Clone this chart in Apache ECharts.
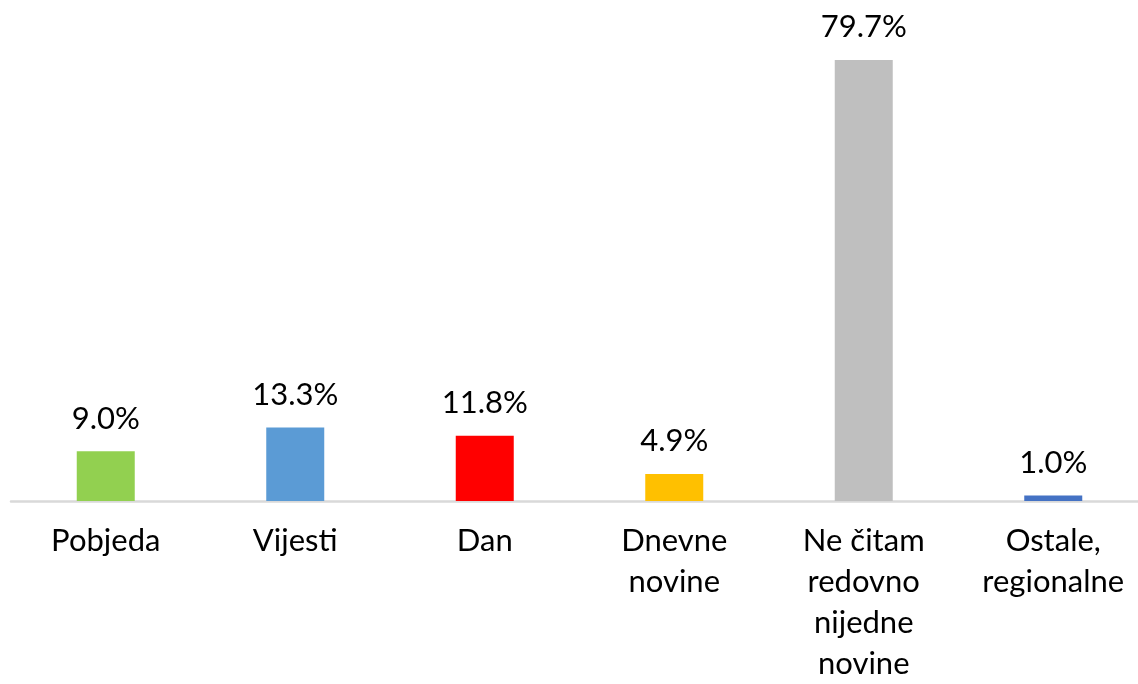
<!DOCTYPE html>
<html>
<head>
<meta charset="utf-8">
<script src="https://cdn.jsdelivr.net/npm/echarts@6/dist/echarts.min.js"></script>
<style>html,body{margin:0;padding:0;background:#fff;overflow:hidden;width:1138px;height:684px;}#c{width:1150px;height:684px;}</style>
</head>
<body>
<div id="c"></div>
<script>
var categories = ['Pobjeda', 'Vijesti', 'Dan', 'Dnevne\nnovine', 'Ne čitam\nredovno\nnijedne\nnovine', 'Ostale,\nregionalne'];
var values = [9.0, 13.3, 11.8, 4.9, 79.7, 1.0];
var colors = ['#92D050', '#5B9BD5', '#FF0000', '#FFC000', '#BFBFBF', '#4472C4'];

var chart = echarts.init(document.getElementById('c'));
var font = 'Lato';
chart.setOption({
  animation: false,
  backgroundColor: '#fff',
  grid: { left: 11, width: 1137, top: 58.3, bottom: 182, containLabel: false },
  xAxis: {
    type: 'category',
    data: categories,
    axisLine: { show: true, lineStyle: { color: '#D9D9D9', width: 2.5 } },
    axisTick: { show: false },
    axisLabel: {
      interval: 0, margin: 19, color: '#000', fontFamily: font, fontSize: 31, lineHeight: 41
    }
  },
  yAxis: {
    type: 'value', min: 0, max: 80, show: false,
    splitLine: { show: false }
  },
  series: [{
    type: 'bar',
    barWidth: 58,
    data: values.map(function (v, i) { return { value: v, itemStyle: { color: colors[i] } }; }),
    label: {
      show: true, position: 'top', distance: 17, color: '#000', fontFamily: font, fontSize: 31,
      formatter: function (p) { return p.value.toFixed(1) + '%'; }
    }
  }]
});
</script>
</body>
</html>
